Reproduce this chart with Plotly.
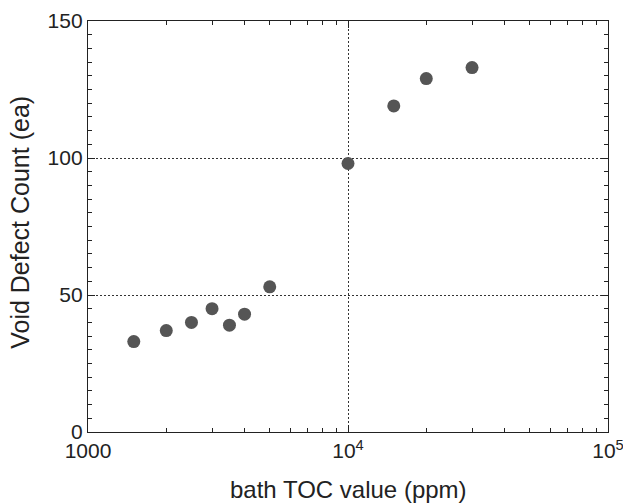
import plotly.graph_objects as go

toc_ppm = [1500, 2000, 2500, 3000, 3500, 4000, 5000, 10000, 15000, 20000, 30000]
void_count = [33, 37, 40, 45, 39, 43, 53, 98, 119, 129, 133]

x_tickvals = [1000, 10000, 100000]
x_ticktext = ["1000", "10<sup>4</sup>", "10<sup>5</sup>"]
x_minor = [2000, 3000, 4000, 5000, 6000, 7000, 8000, 9000,
           20000, 30000, 40000, 50000, 60000, 70000, 80000, 90000]
y_tickvals = [0, 50, 100, 150]

FONT = "Liberation Sans, Arial, sans-serif"
INK = "#222222"

fig = go.Figure()
fig.add_trace(go.Scatter(
    x=toc_ppm, y=void_count, mode="markers",
    marker=dict(size=13, color="#555555", line=dict(width=0)),
    showlegend=False,
))

axis_common = dict(
    showline=True, linecolor=INK, linewidth=1.3, mirror="ticks",
    ticks="inside", ticklen=7, tickcolor=INK, tickwidth=1,
    showgrid=True, gridcolor="#333333", griddash="2px,2px", gridwidth=1,
    zeroline=False, automargin=False, ticklabeloverflow="allow",
    tickfont=dict(family=FONT, size=21, color=INK),
)

fig.update_xaxes(
    type="log", range=[3, 5],
    tickvals=x_tickvals, ticktext=x_ticktext,
    minor=dict(tickvals=x_minor, ticks="inside", ticklen=4, tickcolor=INK, showgrid=False),
    **axis_common,
)
fig.update_yaxes(
    range=[0, 150], tickvals=y_tickvals,
    minor=dict(dtick=5, ticks="inside", ticklen=4, tickcolor=INK, showgrid=False),
    **axis_common,
)

fig.add_annotation(
    text="bath TOC value (ppm)", xref="paper", yref="paper",
    x=0.5, y=-0.103, xanchor="center", yanchor="top", showarrow=False,
    font=dict(family=FONT, size=24, color=INK),
)
fig.add_annotation(
    text="Void Defect Count (ea)", xref="paper", yref="paper",
    x=-0.13, y=0.51, xanchor="center", yanchor="middle", showarrow=False,
    textangle=-90, font=dict(family=FONT, size=25, color=INK),
)

fig.update_layout(
    width=623, height=504,
    margin=dict(l=88, r=15, t=21, b=72),
    plot_bgcolor="white", paper_bgcolor="white",
)

fig.write_html(
    "out.html",
    config={"displayModeBar": False},
    post_script="document.body.style.margin='0';document.body.style.overflow='hidden';",
)
